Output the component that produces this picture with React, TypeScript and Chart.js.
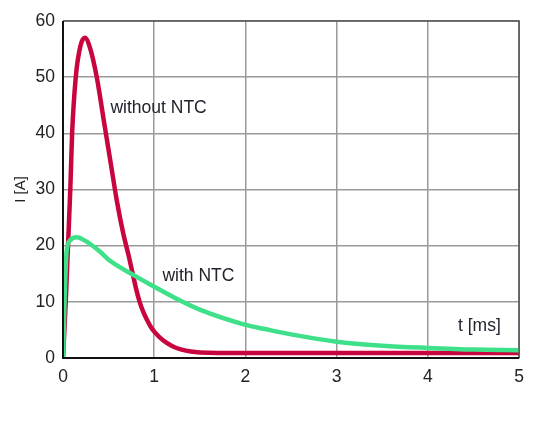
import React, { useEffect, useRef } from 'react'
import { Chart, registerables } from 'chart.js'

Chart.register(...registerables)

// time in ms and current in A
const tWithout = [0, 0.03, 0.055, 0.08, 0.1, 0.14, 0.19, 0.24, 0.3, 0.37, 0.45, 0.52, 0.59, 0.66, 0.72, 0.77, 0.8, 0.84, 0.88, 0.92, 0.96, 1.0, 1.1, 1.2, 1.3, 1.4, 1.5, 2, 3, 4, 5]
const iWithout = [0, 10, 20, 30, 40, 50, 55.5, 57, 55, 50, 42, 35, 28, 22.2, 18.2, 14.6, 12.4, 10, 8.2, 6.8, 5.6, 4.7, 3.1, 2.1, 1.5, 1.15, 1, 0.9, 0.9, 0.9, 0.9]

const tWith = [0, 0.02, 0.04, 0.08, 0.15, 0.25, 0.4, 0.5, 0.77, 1, 1.25, 1.5, 2, 2.2, 2.5, 3, 3.5, 4, 4.5, 5]
const iWith = [0, 12, 19, 21, 21.5, 20.8, 19, 17.5, 14.8, 12.7, 10.5, 8.6, 5.9, 5.2, 4.2, 2.9, 2.2, 1.8, 1.5, 1.4]

const xTicks = [0, 1, 2, 3, 4, 5]
const yTicks = [0, 10, 20, 30, 40, 50, 60]

// in-plot labels: text, t, I
const notes: [string, number, number][] = [
  ['without NTC', 0.52, 44.5],
  ['with NTC', 1.09, 14.6],
  ['t [ms]', 4.33, 5.6],
]

const FONT = "'Liberation Sans', Arial, sans-serif"

const toPoints = (xs: number[], ys: number[]) => xs.map((x, i) => ({ x, y: ys[i] }))

const notesPlugin = {
  id: 'notes',
  afterDatasetsDraw(chart: any) {
    const { ctx, scales } = chart
    ctx.save()
    ctx.font = `17.5px ${FONT}`
    ctx.fillStyle = '#23232f'
    ctx.textBaseline = 'middle'
    ctx.textAlign = 'left'
    notes.forEach(([text, t, i]) => {
      ctx.fillText(text, scales.x.getPixelForValue(t), scales.y.getPixelForValue(i))
    })
    ctx.restore()
  },
}

const framePlugin = {
  id: 'frame',
  afterDatasetsDraw(chart: any) {
    const { ctx, chartArea: a } = chart
    ctx.save()
    ctx.strokeStyle = '#555'
    ctx.lineWidth = 1.5
    ctx.beginPath()
    ctx.moveTo(a.left, a.top)
    ctx.lineTo(a.right, a.top)
    ctx.lineTo(a.right, a.bottom)
    ctx.stroke()
    ctx.strokeStyle = '#111'
    ctx.lineWidth = 2
    ctx.beginPath()
    ctx.moveTo(a.left, a.top)
    ctx.lineTo(a.left, a.bottom)
    ctx.lineTo(a.right, a.bottom)
    ctx.stroke()
    ctx.restore()
  },
}

document.body.style.margin = '0'

const App: React.FC = () => {
  const canvasRef = useRef<HTMLCanvasElement | null>(null)
  const chartRef = useRef<Chart | null>(null)

  useEffect(() => {
    if (!canvasRef.current) return
    if (chartRef.current) chartRef.current.destroy()

    chartRef.current = new Chart(canvasRef.current, {
      type: 'line',
      data: {
        datasets: [
          {
            label: 'with NTC',
            data: toPoints(tWith, iWith),
            borderColor: '#3fe08a',
            borderWidth: 4.5,
            pointRadius: 0,
            cubicInterpolationMode: 'monotone',
            fill: false,
          },
          {
            label: 'without NTC',
            data: toPoints(tWithout, iWithout),
            borderColor: '#c8053e',
            borderWidth: 4.5,
            pointRadius: 0,
            cubicInterpolationMode: 'monotone',
            fill: false,
          },
        ],
      },
      options: {
        animation: false,
        responsive: false,
        layout: { padding: { left: 0, right: 13, top: 21, bottom: 0 } },
        plugins: { legend: { display: false }, tooltip: { enabled: false } },
        scales: {
          x: {
            type: 'linear',
            min: 0,
            max: 5,
            afterBuildTicks: (s: any) => {
              s.ticks = xTicks.map((v) => ({ value: v }))
            },
            afterFit: (s: any) => {
              s.height = 63
            },
            grid: { color: '#9a9a9a', lineWidth: 1.5, drawTicks: false },
            border: { display: false },
            ticks: { color: '#222', font: { family: FONT, size: 17.5 }, padding: 9, maxRotation: 0 },
          },
          y: {
            type: 'linear',
            min: 0,
            max: 60,
            afterBuildTicks: (s: any) => {
              s.ticks = yTicks.map((v) => ({ value: v }))
            },
            afterFit: (s: any) => {
              s.width = 63
            },
            grid: { color: '#9a9a9a', lineWidth: 1.5, drawTicks: false },
            border: { display: false },
            ticks: { color: '#222', font: { family: FONT, size: 17.5 }, padding: 8 },
            title: {
              display: true,
              text: 'I [A]',
              color: '#222',
              font: { family: FONT, size: 15 },
              padding: { top: 12, bottom: 0 },
            },
          },
        },
      },
      plugins: [notesPlugin, framePlugin],
    })

    return () => {
      if (chartRef.current) chartRef.current.destroy()
    }
  }, [])

  return <canvas ref={canvasRef} width={533} height={421} style={{ display: 'block' }}></canvas>
}

export default App
